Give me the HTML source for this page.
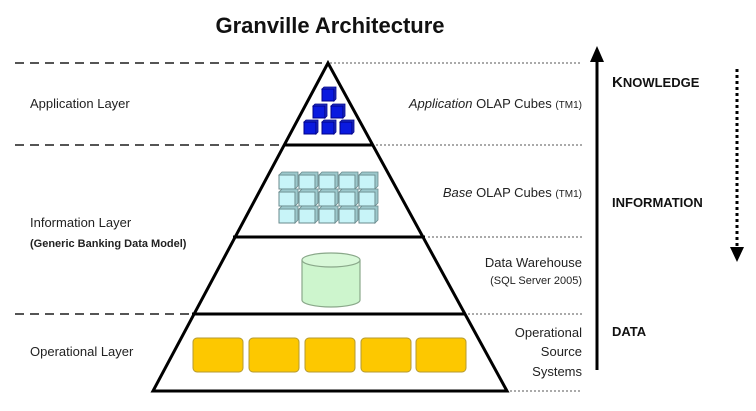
<!DOCTYPE html>
<html><head><meta charset="utf-8"><style>
html,body{margin:0;padding:0;background:#fff;}
svg{display:block;font-family:"Liberation Sans",Arial,sans-serif;}
</style></head><body>
<svg width="756" height="411" viewBox="0 0 756 411" xmlns="http://www.w3.org/2000/svg">
<defs>
<g id="bc"><rect x="0" y="2" width="12" height="12" fill="#0a1adf" stroke="#00008a" stroke-width="1"/><path d="M0 2 L2 0 L14 0 L14 12 L12 14 L12 2 Z" fill="#2030c0" stroke="#00008a" stroke-width="0.8"/></g>
<g id="cc"><rect x="0" y="3" width="16" height="14" fill="#c8f4f8" stroke="#6a8a8c" stroke-width="1"/><path d="M0 3 L3 0 L19 0 L19 14 L16 17 L16 3 Z" fill="#9cc8cc" stroke="#6a8a8c" stroke-width="0.8"/></g>
</defs>
<text x="330" y="33" font-size="22" font-weight="bold" text-anchor="middle" fill="#111">Granville Architecture</text>
<g stroke="#555" stroke-width="2" stroke-dasharray="9,6">
<line x1="15" y1="63" x2="322" y2="63"/>
<line x1="15" y1="145" x2="283" y2="145"/>
<line x1="15" y1="314" x2="190" y2="314"/>
</g>
<g stroke="#777" stroke-width="1.2" stroke-dasharray="2,2">
<line x1="330" y1="63" x2="582" y2="63"/>
<line x1="376" y1="145" x2="582" y2="145"/>
<line x1="428" y1="237" x2="582" y2="237"/>
<line x1="468" y1="314" x2="582" y2="314"/>
<line x1="510" y1="391" x2="582" y2="391"/>
</g>
<path d="M328 63 L153 391 L507 391 Z" fill="#fff" stroke="#000" stroke-width="3" stroke-linejoin="miter"/>
<g stroke="#000" stroke-width="3">
<line x1="284" y1="145" x2="373" y2="145"/>
<line x1="233" y1="237" x2="425" y2="237"/>
<line x1="192" y1="314" x2="466" y2="314"/>
</g>
<use href="#bc" x="322" y="87"/>
<use href="#bc" x="313" y="104"/><use href="#bc" x="331" y="104"/>
<use href="#bc" x="304" y="120"/><use href="#bc" x="322" y="120"/><use href="#bc" x="340" y="120"/>
<g>
<use href="#cc" x="279" y="172"/><use href="#cc" x="299" y="172"/><use href="#cc" x="319" y="172"/><use href="#cc" x="339" y="172"/><use href="#cc" x="359" y="172"/>
<use href="#cc" x="279" y="189"/><use href="#cc" x="299" y="189"/><use href="#cc" x="319" y="189"/><use href="#cc" x="339" y="189"/><use href="#cc" x="359" y="189"/>
<use href="#cc" x="279" y="206"/><use href="#cc" x="299" y="206"/><use href="#cc" x="319" y="206"/><use href="#cc" x="339" y="206"/><use href="#cc" x="359" y="206"/>
</g>
<path d="M302 260 L302 300 A29 7 0 0 0 360 300 L360 260" fill="#cdf5cd" stroke="#8aa88a" stroke-width="1.2"/>
<ellipse cx="331" cy="260" rx="29" ry="7" fill="#d8f8d8" stroke="#8aa88a" stroke-width="1.2"/>
<g fill="#fdc800" stroke="#b59a30" stroke-width="1">
<rect x="193" y="338" width="50" height="34" rx="4"/>
<rect x="249" y="338" width="50" height="34" rx="4"/>
<rect x="305" y="338" width="50" height="34" rx="4"/>
<rect x="361" y="338" width="50" height="34" rx="4"/>
<rect x="416" y="338" width="50" height="34" rx="4"/>
</g>
<g font-size="13" fill="#222">
<text x="30" y="108">Application Layer</text>
<text x="30" y="227">Information Layer</text>
<text x="30" y="247" font-size="11" font-weight="bold">(Generic Banking Data Model)</text>
<text x="30" y="356">Operational Layer</text>
</g>
<g font-size="13" fill="#222" text-anchor="end">
<text x="582" y="108"><tspan font-style="italic">Application</tspan> OLAP Cubes <tspan font-size="10">(TM1)</tspan></text>
<text x="582" y="197"><tspan font-style="italic">Base</tspan> OLAP Cubes <tspan font-size="10">(TM1)</tspan></text>
<text x="582" y="267">Data Warehouse</text>
<text x="582" y="284" font-size="11">(SQL Server 2005)</text>
<text x="582" y="337">Operational</text>
<text x="582" y="356">Source</text>
<text x="582" y="376">Systems</text>
</g>
<line x1="597" y1="60" x2="597" y2="370" stroke="#000" stroke-width="3"/>
<path d="M590 62 L597 46 L604 62 Z" fill="#000"/>
<line x1="737" y1="69" x2="737" y2="248" stroke="#000" stroke-width="3" stroke-dasharray="3,3"/>
<path d="M730 247 L737 262 L744 247 Z" fill="#000"/>
<g font-size="13" font-weight="bold" fill="#111">
<text x="612" y="87"><tspan font-size="15">K</tspan>NOWLEDGE</text>
<text x="612" y="207">INFORMATION</text>
<text x="612" y="336">DATA</text>
</g>
</svg>
</body></html>
